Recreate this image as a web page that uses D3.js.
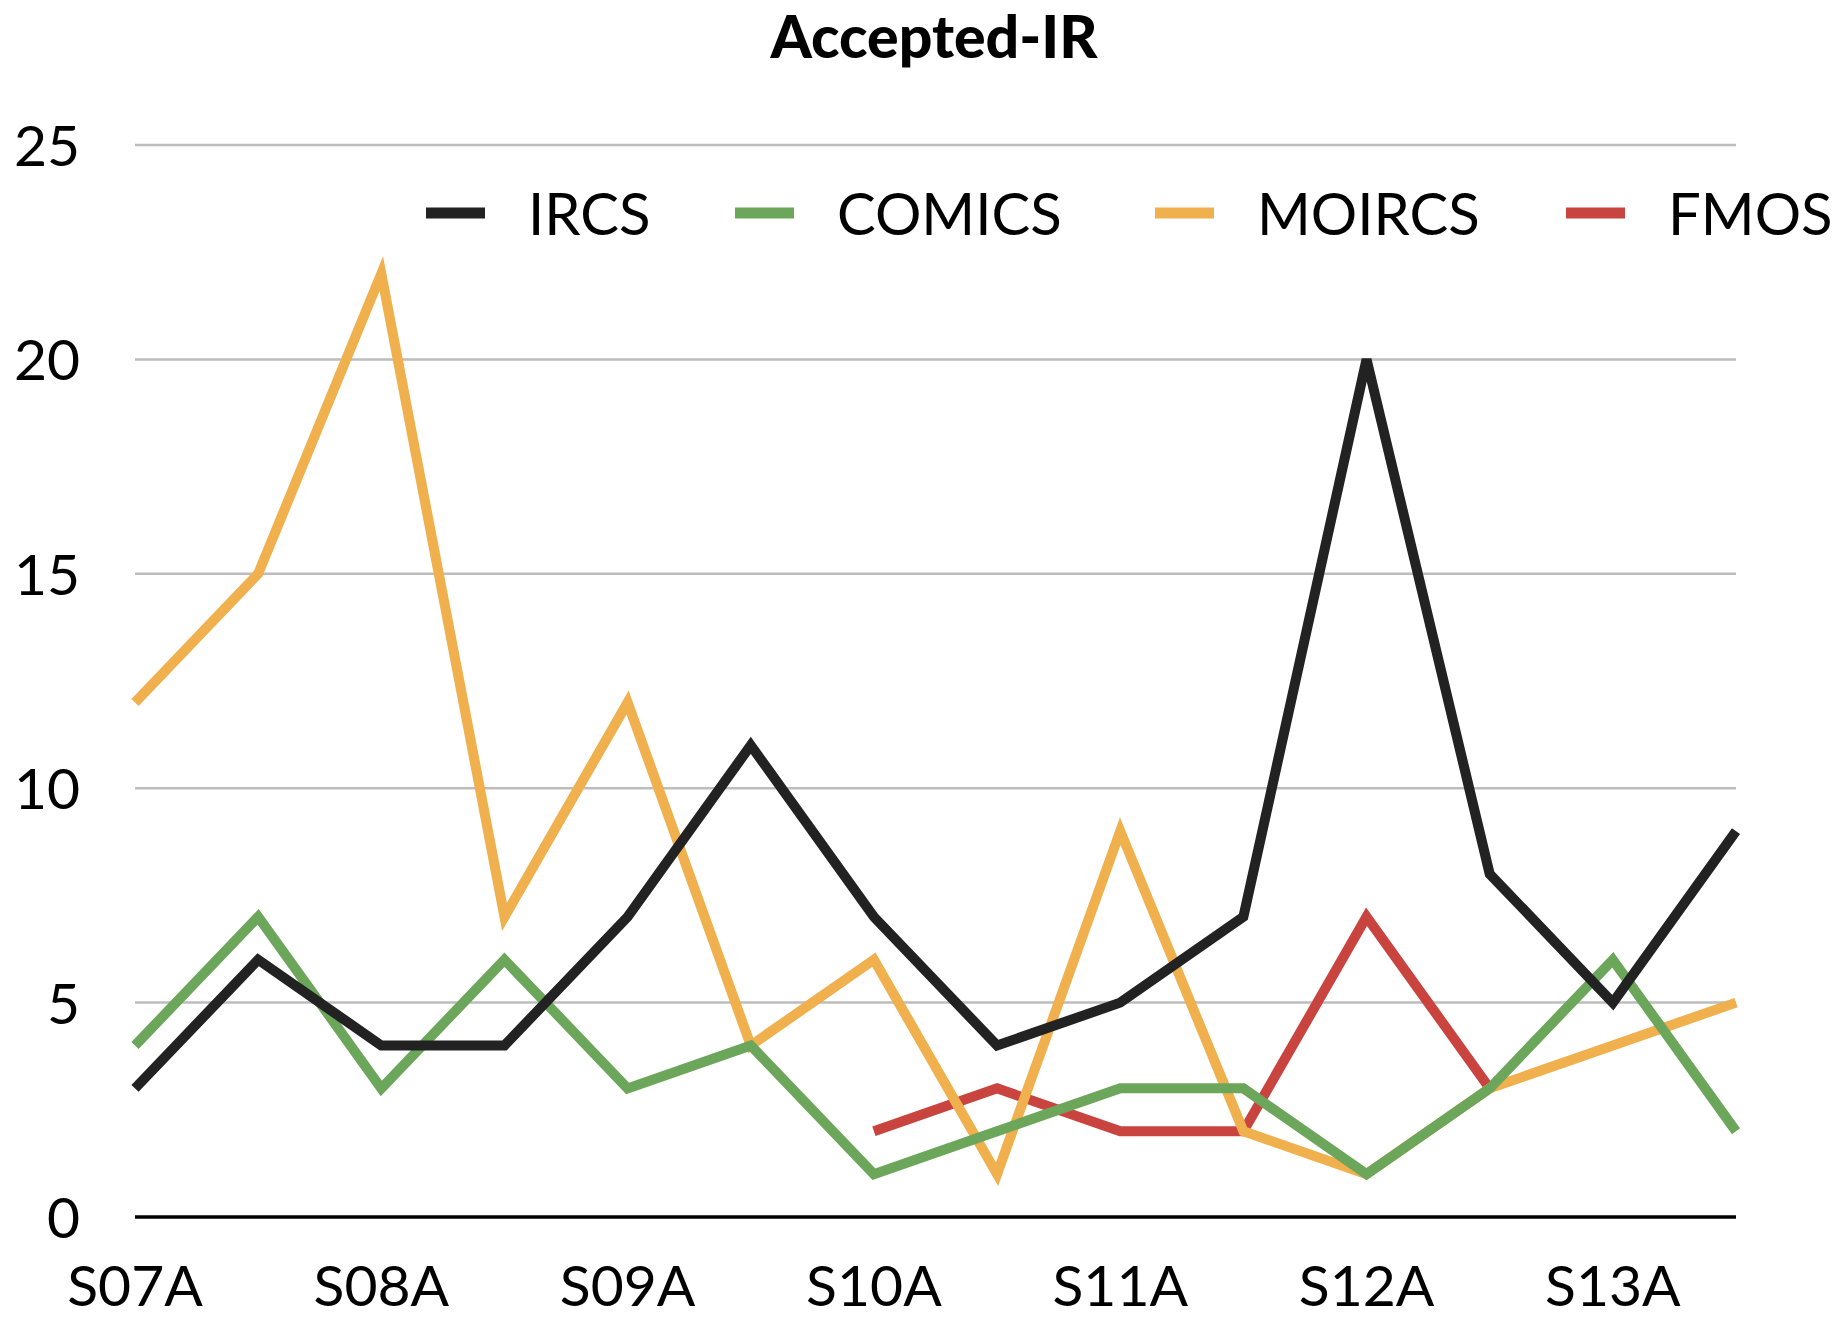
<!DOCTYPE html>
<html>
<head>
<meta charset="utf-8">
<script src="https://cdn.jsdelivr.net/npm/d3@7"></script>
<style>
  html, body { margin: 0; padding: 0; background: #ffffff; }
  svg { display: block; }
  text { font-family: Lato, "Open Sans", sans-serif; fill: #000; }
</style>
</head>
<body>
<svg id="chart" width="1839" height="1319"></svg>
<script>
const title = "Accepted-IR";
const semesters = ["S07A","S07B","S08A","S08B","S09A","S09B","S10A","S10B","S11A","S11B","S12A","S12B","S13A","S13B"];
const tickLabels = ["S07A","S08A","S09A","S10A","S11A","S12A","S13A"];
const yTicks = [0, 5, 10, 15, 20, 25];
const seriesNames = ["IRCS","COMICS","MOIRCS","FMOS"];
const ircs   = [3, 6, 4, 4, 7, 11, 7, 4, 5, 7, 20, 8, 5, 9];
const comics = [4, 7, 3, 6, 3, 4, 1, 2, 3, 3, 1, 3, 6, 2];
const moircs = [12, 15, 22, 7, 12, 4, 6, 1, 9, 2, 1, 3, 4, 5];
const fmos   = [null, null, null, null, null, null, 2, 3, 2, 2, 7, 3, null, null];
const colors = ["#222222", "#6ca65a", "#efb04d", "#c9433f"];

const series = [
  {name: seriesNames[0], values: ircs, color: colors[0]},
  {name: seriesNames[1], values: comics, color: colors[1]},
  {name: seriesNames[2], values: moircs, color: colors[2]},
  {name: seriesNames[3], values: fmos, color: colors[3]}
];

const svg = d3.select("#chart");
const plotLeft = 135, plotRight = 1736, plotTop = 145, plotBottom = 1217;

const x = d3.scalePoint().domain(semesters).range([plotLeft, plotRight]);
const y = d3.scaleLinear().domain([0, 25]).range([plotBottom, plotTop]);

// gridlines
svg.append("g").selectAll("line").data(yTicks.filter(d => d > 0)).join("line")
  .attr("x1", plotLeft).attr("x2", plotRight)
  .attr("y1", d => y(d)).attr("y2", d => y(d))
  .attr("stroke", "#bdbdbd").attr("stroke-width", 2.5);

// y labels
svg.append("g").selectAll("text").data(yTicks).join("text")
  .attr("x", 80).attr("y", d => y(d) + 21)
  .attr("text-anchor", "end")
  .attr("font-size", 57)
  .text(d => d);

// x axis line
svg.append("line")
  .attr("x1", plotLeft).attr("x2", plotRight)
  .attr("y1", y(0)).attr("y2", y(0))
  .attr("stroke", "#000").attr("stroke-width", 3.5);

// x labels
svg.append("g").selectAll("text").data(tickLabels).join("text")
  .attr("x", d => x(d)).attr("y", 1306)
  .attr("text-anchor", "middle")
  .attr("font-size", 57)
  .text(d => d);

// lines
const line = d3.line()
  .defined(d => d.v !== null)
  .x(d => x(d.s)).y(d => y(d.v));

const drawOrder = [3, 2, 1, 0];
svg.append("g").selectAll("path").data(drawOrder.map(i => series[i])).join("path")
  .attr("d", s => line(s.values.map((v, i) => ({s: semesters[i], v}))))
  .attr("fill", "none")
  .attr("stroke", s => s.color)
  .attr("stroke-width", 10)
  .attr("stroke-linejoin", "miter")
  .attr("stroke-linecap", "butt");

// title
svg.append("text")
  .attr("x", 934).attr("y", 58)
  .attr("text-anchor", "middle")
  .attr("font-size", 59)
  .attr("font-weight", 900)
  .text(title);

// legend
const legendX = [426, 735, 1155, 1566];
const lg = svg.append("g").selectAll("g").data(series).join("g")
  .attr("transform", (d, i) => `translate(${legendX[i]},213)`);
lg.append("rect")
  .attr("x", 0).attr("y", -5.5).attr("width", 59).attr("height", 11)
  .attr("fill", d => d.color);
lg.append("text")
  .attr("x", 102).attr("y", 22)
  .attr("font-size", 58)
  .text(d => d.name);
</script>
</body>
</html>
